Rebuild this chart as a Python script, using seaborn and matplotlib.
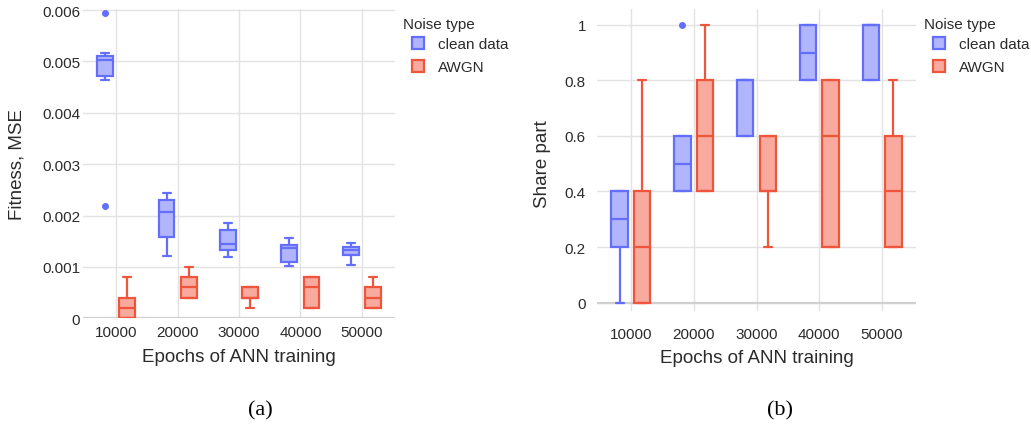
import matplotlib
matplotlib.use("Agg")
import matplotlib.pyplot as plt
import pandas as pd
import seaborn as sns
from matplotlib.patches import Patch

# ---------------- data ----------------
epochs = ["10000", "20000", "30000", "40000", "50000"]
noise_types = ["clean data", "AWGN"]

# (a) Fitness, MSE — runs per epoch count
mse_clean = [
    [0.00219, 0.00464, 0.00471, 0.00485, 0.00503, 0.00507, 0.00510, 0.00517, 0.00595],
    [0.00121, 0.00140, 0.00159, 0.00190, 0.00206, 0.00220, 0.00230, 0.00240, 0.00244],
    [0.00120, 0.00126, 0.00132, 0.00140, 0.00145, 0.00160, 0.00171, 0.00180, 0.00185],
    [0.00102, 0.00106, 0.00110, 0.00120, 0.00136, 0.00139, 0.00142, 0.00150, 0.00156],
    [0.00104, 0.00115, 0.00123, 0.00128, 0.00132, 0.00136, 0.00139, 0.00143, 0.00146],
]
mse_awgn = [
    [0.0, 0.0, 0.0, 0.0002, 0.0002, 0.0004, 0.0004, 0.0006, 0.0008],
    [0.0004, 0.0004, 0.0004, 0.0006, 0.0006, 0.0008, 0.0008, 0.0008, 0.0010],
    [0.0002, 0.0004, 0.0004, 0.0004, 0.0004, 0.0006, 0.0006, 0.0006, 0.0006],
    [0.0002, 0.0002, 0.0002, 0.0004, 0.0006, 0.0008, 0.0008, 0.0008, 0.0008],
    [0.0002, 0.0002, 0.0002, 0.0004, 0.0004, 0.0006, 0.0006, 0.0006, 0.0008],
]
# (b) Share part
share_clean = [
    [0.0, 0.2, 0.2, 0.2, 0.3, 0.4, 0.4, 0.4, 0.4],
    [0.4, 0.4, 0.4, 0.5, 0.5, 0.6, 0.6, 0.6, 1.0],
    [0.6, 0.6, 0.6, 0.8, 0.8, 0.8, 0.8, 0.8, 0.8],
    [0.8, 0.8, 0.8, 0.9, 0.9, 1.0, 1.0, 1.0, 1.0],
    [0.8, 0.8, 0.8, 1.0, 1.0, 1.0, 1.0, 1.0, 1.0],
]
share_awgn = [
    [0.0, 0.0, 0.0, 0.2, 0.2, 0.4, 0.4, 0.6, 0.8],
    [0.4, 0.4, 0.4, 0.6, 0.6, 0.8, 0.8, 0.8, 1.0],
    [0.2, 0.4, 0.4, 0.4, 0.4, 0.6, 0.6, 0.6, 0.6],
    [0.2, 0.2, 0.2, 0.4, 0.6, 0.8, 0.8, 0.8, 0.8],
    [0.2, 0.2, 0.2, 0.4, 0.4, 0.6, 0.6, 0.6, 0.8],
]

yticks_a = [0, 0.001, 0.002, 0.003, 0.004, 0.005, 0.006]
yticklabels_a = ["0", "0.001", "0.002", "0.003", "0.004", "0.005", "0.006"]
yticks_b = [0, 0.2, 0.4, 0.6, 0.8, 1.0]
yticklabels_b = ["0", "0.2", "0.4", "0.6", "0.8", "1"]


def long_frame(clean, awgn):
    rows = []
    for noise, groups in zip(noise_types, [clean, awgn]):
        for ep, vals in zip(epochs, groups):
            for v in vals:
                rows.append({"epochs": ep, "noise": noise, "value": v})
    return pd.DataFrame(rows)


df_a = long_frame(mse_clean, mse_awgn)
df_b = long_frame(share_clean, share_awgn)

# ---------------- style ----------------
sns.set_theme(style="whitegrid")
plt.rcParams["font.family"] = ["Liberation Sans", "DejaVu Sans"]
text_color = "#2b2b2b"
grid_color = "#e2e2e2"
edge_colors = {"clean data": "#636efa", "AWGN": "#ef553b"}
fill_colors = {"clean data": "#b1b6fc", "AWGN": "#f7aa9d"}

W, H = 1031, 427
fig = plt.figure(figsize=(W / 100, H / 100), dpi=100)


def px_axes(left, top, right, bottom):
    return fig.add_axes([left / W, 1 - bottom / H, (right - left) / W, (bottom - top) / H])


ax_a = px_axes(83, 10, 395, 319.3)
ax_b = px_axes(597, 10, 916, 311.7)


def draw(ax, df):
    for noise in noise_types:
        sub = df[df["noise"] == noise]
        sns.boxplot(
            data=sub, x="epochs", y="value", hue="noise",
            order=epochs, hue_order=noise_types, palette=fill_colors,
            saturation=1, linecolor=edge_colors[noise], linewidth=1.6,
            width=0.72, gap=0.28, dodge=True, whis=1.5,
            flierprops=dict(marker="o", markersize=4,
                            markerfacecolor=edge_colors[noise],
                            markeredgecolor=edge_colors[noise]),
            legend=False, ax=ax,
        )
    for s in ax.spines.values():
        s.set_visible(False)
    ax.grid(True, color=grid_color, linewidth=1.0)
    ax.set_axisbelow(True)
    ax.tick_params(length=0, labelsize=11, colors=text_color)
    ax.set_xlim(-0.54, 4.54)


draw(ax_a, df_a)
draw(ax_b, df_b)

ax_a.set_ylim(0, 0.00602)
ax_a.set_yticks(yticks_a)
ax_a.set_yticklabels(yticklabels_a)
ax_b.set_ylim(-0.0288, 1.0565)
ax_b.set_yticks(yticks_b)
ax_b.set_yticklabels(yticklabels_b)

for ax in (ax_a, ax_b):
    ax.axhline(0, color="#d0d0d0", linewidth=1.6, zorder=0.6)

ax_a.tick_params(axis="y", pad=2)
ax_a.tick_params(axis="x", pad=5)
ax_b.tick_params(axis="y", pad=8)
ax_b.tick_params(axis="x", pad=12)

for ax, ylab, ylab_x, ylab_y, xlab_y in [
    (ax_a, "Fitness, MSE", -0.2115, 0.5, -0.125),
    (ax_b, "Share part", -0.172, 0.49, -0.1535),
]:
    ax.set_xlabel("Epochs of ANN training", fontsize=13.5, color=text_color, va="center")
    ax.set_ylabel(ylab, fontsize=13.5, color=text_color, va="center")
    ax.xaxis.set_label_coords(0.5, xlab_y)
    ax.yaxis.set_label_coords(ylab_x, ylab_y)

# legends
handles = [Patch(facecolor=fill_colors[n], edgecolor=edge_colors[n], linewidth=1.6) for n in noise_types]
for title_x, hx in [(403, 412), (924, 933)]:
    fig.text(title_x / W, 1 - 25 / H, "Noise type", fontsize=11, color=text_color,
             ha="left", va="center")
    fig.legend(handles, noise_types, loc="upper left",
               bbox_to_anchor=(hx / W, 1 - 38 / H), frameon=False,
               borderpad=0, borderaxespad=0, handlelength=0.8, handleheight=0.8,
               handletextpad=0.9, labelspacing=0.6, fontsize=11, labelcolor=text_color)

# captions
fig.text(260 / W, 1 - 411 / H, "(a)", fontsize=16, family="Liberation Serif",
         ha="center", va="center", color="black")
fig.text(780 / W, 1 - 411 / H, "(b)", fontsize=16, family="Liberation Serif",
         ha="center", va="center", color="black")

fig.savefig("out.png", dpi=100)
